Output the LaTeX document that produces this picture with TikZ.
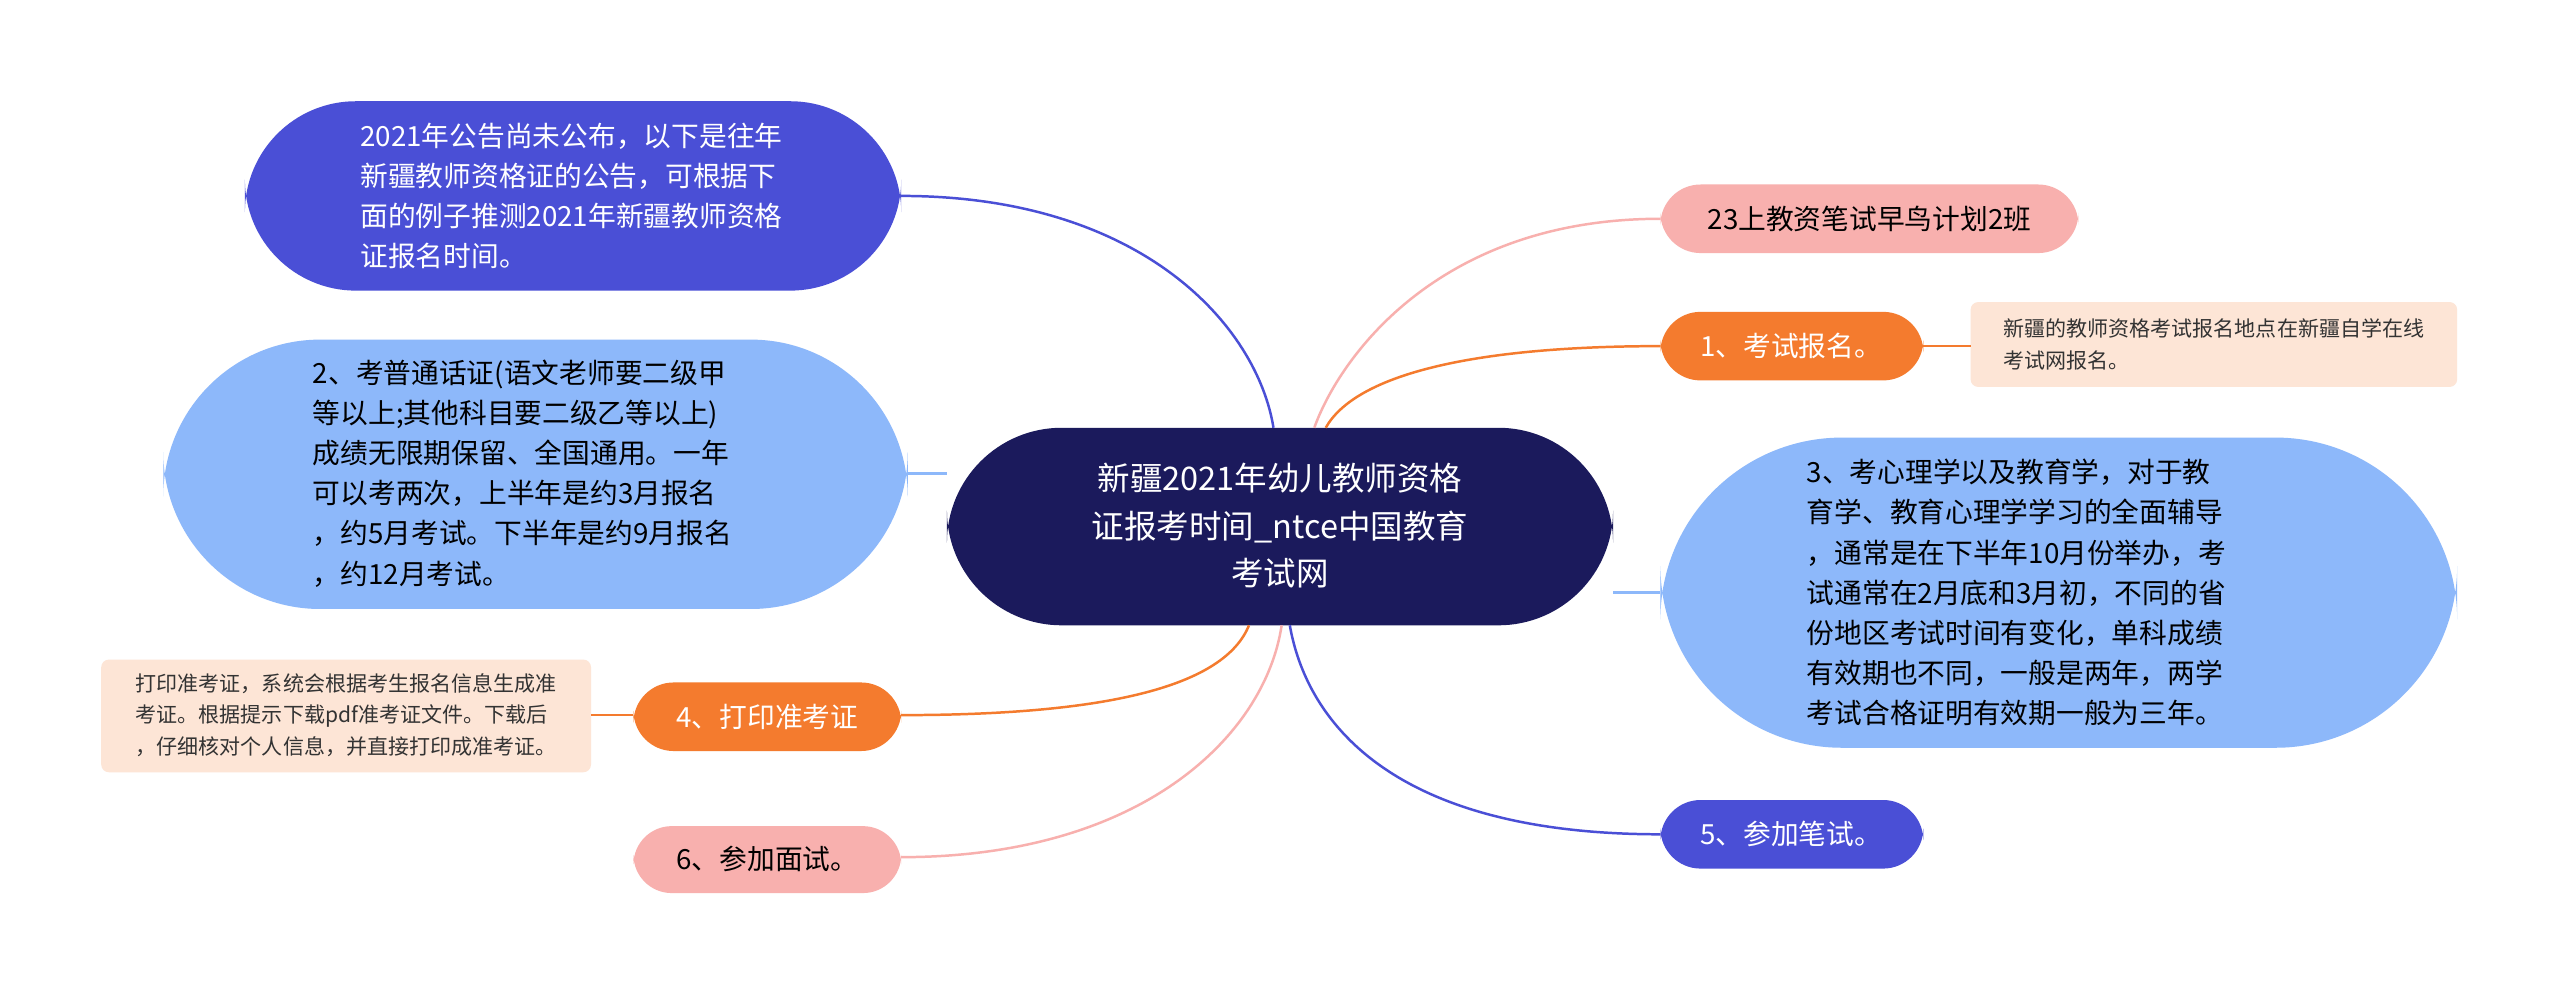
\documentclass[tikz,border=0pt]{standalone}
\usepackage{fontspec}
\setmainfont{Noto Sans CJK SC}
\begin{document}
\begin{tikzpicture}[x=0.03cm,y=-0.03cm,
 box/.style={inner sep=0pt,minimum width=#1,align=left},
 big/.style={font=\fontsize{14.5}{21}\selectfont},
 sm/.style={font=\fontsize{11}{16.5}\selectfont},
 ln/.style={line width=1.3pt}]
\definecolor{navy}{HTML}{1B1A5C}\definecolor{blu}{HTML}{4A4FD6}
\definecolor{lblu}{HTML}{8DB8FA}\definecolor{pch}{HTML}{FDE5D6}
\definecolor{org}{HTML}{F47B2E}\definecolor{pnk}{HTML}{F8B0AE}
\useasboundingbox[fill=white] (0,0) rectangle (1568,609);
% shapes
\fill[navy,rounded corners=60] (580,262) rectangle (988,383);
\fill[blu,rounded corners=58] (150,62) rectangle (552,178);
\fill[lblu,rounded corners=82] (100,208) rectangle (556,373);
\fill[pch,rounded corners=4] (62,404) rectangle (362,473);
\fill[org,rounded corners=21] (388,418) rectangle (552,460);
\fill[pnk,rounded corners=20] (388,506) rectangle (552,547);
\fill[pnk,rounded corners=21] (1017,113) rectangle (1273,155);
\fill[org,rounded corners=21] (1017,191) rectangle (1178,233);
\fill[pch,rounded corners=4] (1207,185) rectangle (1505,237);
\fill[lblu,rounded corners=95] (1017,268) rectangle (1505,458);
\fill[blu,rounded corners=21] (1017,490) rectangle (1178,532);
% nodes
\node[align=center,text=white,font=\fontsize{17}{25}\selectfont] (c) at (784,322) {新疆2021年幼儿教师资格\\证报考时间\_ntce中国教育\\考试网};
\node[big,align=left,text=white] (a) at (350,120) {2021年公告尚未公布，以下是往年\\新疆教师资格证的公告，可根据下\\面的例子推测2021年新疆教师资格\\证报名时间。};
\node[big,align=left] (b) at (320,290) {2、考普通话证(语文老师要二级甲\\等以上;其他科目要二级乙等以上)\\成绩无限期保留、全国通用。一年\\可以考两次，上半年是约3月报名\\，约5月考试。下半年是约9月报名\\，约12月考试。};
\node[sm,align=left,text=black!80] (d) at (212,438) {打印准考证，系统会根据考生报名信息生成准\\考证。根据提示下载pdf准考证文件。下载后\\，仔细核对个人信息，并直接打印成准考证。};
\node[big,text=white] (e) at (470,439) {4、打印准考证};
\node[big] (f) at (470,526) {6、参加面试。};
\node[big] (g) at (1145,134) {23上教资笔试早鸟计划2班};
\node[big,text=white] (h) at (1097,212) {1、考试报名。};
\node[sm,align=left,text=black!80] (i) at (1356,211) {新疆的教师资格考试报名地点在新疆自学在线\\考试网报名。};
\node[big,align=left] (j) at (1235,363) {3、考心理学以及教育学，对于教\\育学、教育心理学学习的全面辅导\\，通常是在下半年10月份举办，考\\试通常在2月底和3月初，不同的省\\份地区考试时间有变化，单科成绩\\有效期也不同，一般是两年，两学\\考试合格证明有效期一般为三年。};
\node[big,text=white] (k) at (1097,511) {5、参加笔试。};
\coordinate (ae) at (552,120); \coordinate (be) at (556,290);
\coordinate (ee) at (552,438); \coordinate (fe) at (552,525);
\coordinate (ge) at (1017,134); \coordinate (he) at (1017,212);
\coordinate (je) at (1017,363); \coordinate (ke) at (1017,511);
\coordinate (de) at (362,438); \coordinate (ie) at (1207,212);
% connectors
\begin{scope}[on background layer/.style={}]
\draw[ln,blu] (ae) .. controls (700,120) and (770,200) .. (780,262);
\draw[ln,lblu] (be) -- (580,290);
\draw[ln,org] (ee) .. controls (680,438) and (750,420) .. (765,383);
\draw[ln,pnk] (fe) .. controls (700,525) and (775,450) .. (785,383);
\draw[ln,pnk] (ge) .. controls (880,134) and (820,220) .. (805,262);
\draw[ln,org] (he) .. controls (900,212) and (830,230) .. (812,262);
\draw[ln,lblu] (je) -- (988,363);
\draw[ln,blu] (ke) .. controls (850,511) and (800,440) .. (790,383);
\draw[line width=1pt,org] (de) -- (388,438);
\draw[line width=1pt,org] (1178,212) -- (ie);
\end{scope}
\end{tikzpicture}
\end{document}
